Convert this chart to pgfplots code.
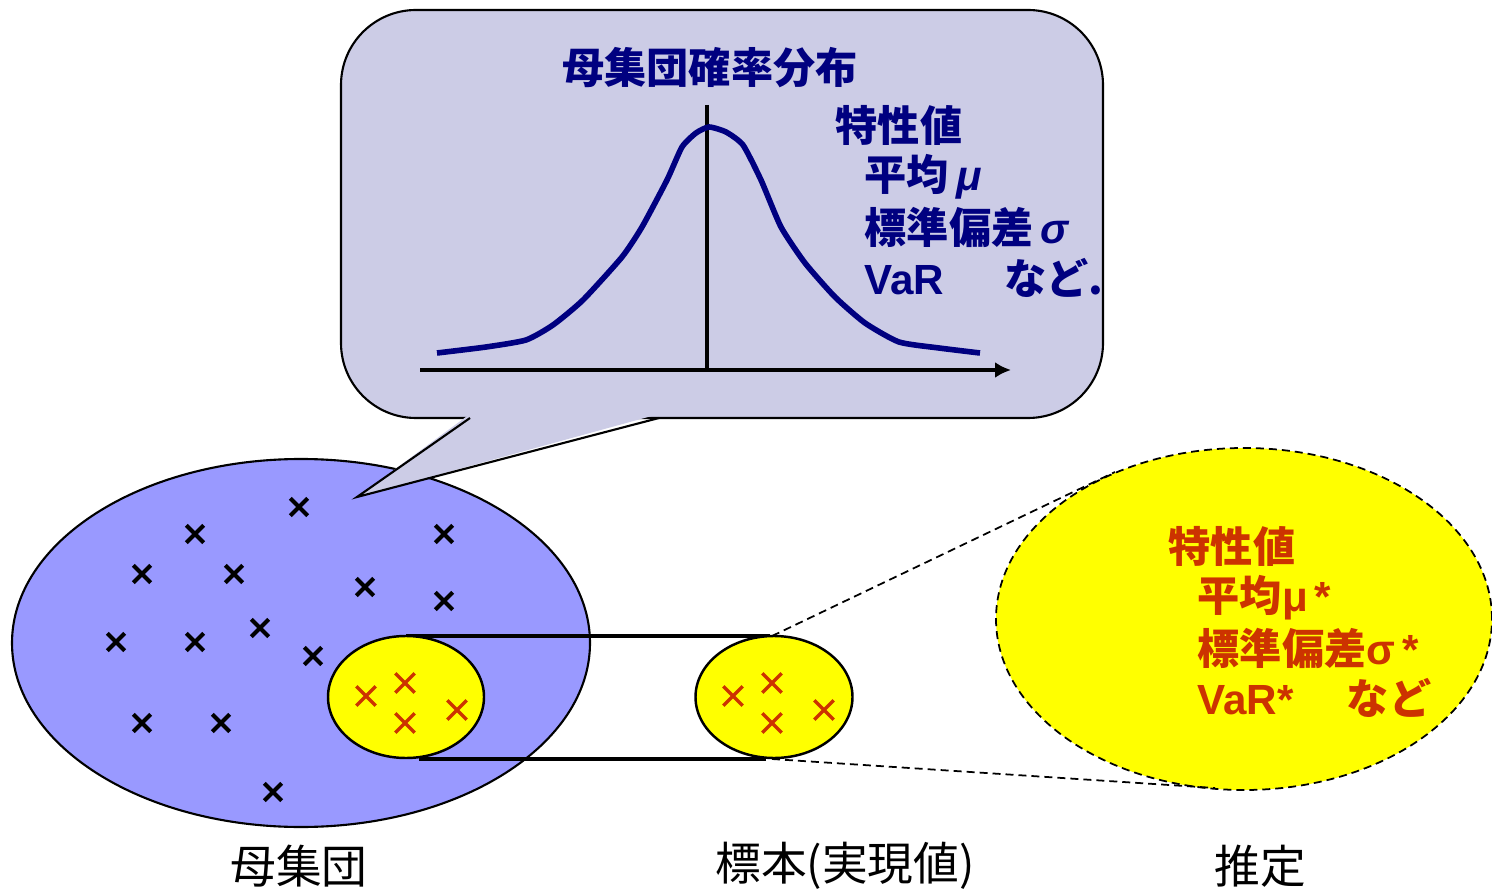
\documentclass[border=0pt]{standalone}
\usepackage{pgfplots}
\pgfplotsset{compat=1.18}
\usetikzlibrary{arrows.meta}
\usepackage{fontspec}
\newfontfamily\jp{Noto Sans CJK JP}
\newfontfamily\lat{Liberation Sans}
\definecolor{callfill}{RGB}{204,204,230}
\definecolor{popfill}{RGB}{153,153,255}
\definecolor{yel}{RGB}{255,255,0}
\definecolor{navy}{RGB}{0,0,128}
\definecolor{rd}{RGB}{204,51,0}
\begin{document}
\begin{tikzpicture}
\begin{axis}[name=a, width=149.2mm, height=88.9mm, scale only axis,
  xmin=0, xmax=1492, ymin=0, ymax=889, y dir=reverse, hide axis, clip=true]
% population ellipse
\draw[fill=popfill, line width=0.6pt] (axis cs:301,643) ellipse [x radius=28.9mm, y radius=18.4mm];
% callout box
\draw[fill=callfill, line width=0.6pt, rounded corners=7.5mm] (axis cs:341,10) rectangle (axis cs:1103,418);
\fill[callfill] (axis cs:470,414) -- (axis cs:357,497) -- (axis cs:659,414) -- cycle;
\draw[line width=0.6pt] (axis cs:470,418) -- (axis cs:357,497) -- (axis cs:659,418);
% distribution axes
\draw[line width=0.9pt] (axis cs:707,105) -- (axis cs:707,370);
\draw[line width=0.9pt, -{Latex[length=4.5pt,width=4.5pt]}] (axis cs:420,370) -- (axis cs:1011,370);
\addplot[navy, line width=1.6pt, mark=none, smooth, tension=0.35] coordinates {
(437,353) (486,347) (526,340) (553,325) (583,300) (622,257) (642,227) (667,180)
(682,147) (696,133) (709,127) (726,132) (743,145) (761,180) (781,227) (805,263)
(835,297) (865,323) (899,342) (939,348) (980,353)};
% sample lines
\draw[line width=1pt] (axis cs:406,636) -- (axis cs:770,636);
\draw[line width=1pt] (axis cs:419,759) -- (axis cs:766,759);
% estimate ellipse
\draw[fill=yel, line width=0.5pt, dash pattern=on 0.8mm off 0.5mm] (axis cs:1244,619) ellipse [x radius=24.8mm, y radius=17.1mm];
\draw[line width=0.5pt, dash pattern=on 0.8mm off 0.5mm] (axis cs:772,636) -- (axis cs:1115,472);
\draw[line width=0.5pt, dash pattern=on 0.8mm off 0.5mm] (axis cs:772,759) -- (axis cs:1215,788);
% yellow sample ellipses
\draw[fill=yel, line width=0.7pt] (axis cs:406,697) ellipse [x radius=7.8mm, y radius=6.1mm];
\draw[fill=yel, line width=0.7pt] (axis cs:774,697) ellipse [x radius=7.85mm, y radius=6.1mm];
% population points
\addplot[only marks, mark=x, mark size=3.5pt, mark options={line width=1.2pt, draw=black}] coordinates {
(299,507) (195,534) (444,534) (142,574) (234,574) (365,587) (444,601)
(116,642) (195,642) (260,628) (313,656) (142,723) (221,723) (273,792)};
% sample points
\addplot[only marks, mark=x, mark size=3.9pt, mark options={line width=0.95pt, draw=rd}] coordinates {
(366,696) (405,683) (405,723) (457,710)};
\addplot[only marks, mark=x, mark size=3.9pt, mark options={line width=0.95pt, draw=rd}] coordinates {
(733,696) (772,683) (772,723) (824,710)};
% callout text
\node[anchor=center, inner sep=0, text=navy, font=\jp\bfseries\fontsize{12pt}{14pt}\selectfont] at (axis cs:710,68) {母集団確率分布};
\node[anchor=west, inner sep=0, text=navy, font=\jp\bfseries\fontsize{12pt}{14pt}\selectfont] at (axis cs:835,125) {特性値};
\node[anchor=west, inner sep=0, text=navy, font=\jp\bfseries\fontsize{12pt}{14pt}\selectfont] at (axis cs:864,177) {平均\,{\lat\itshape μ}};
\node[anchor=west, inner sep=0, text=navy, font=\jp\bfseries\fontsize{12pt}{14pt}\selectfont] at (axis cs:864,227) {標準偏差\,{\lat\itshape σ}};
\node[anchor=west, inner sep=0, text=navy, font=\jp\bfseries\fontsize{12pt}{14pt}\selectfont] at (axis cs:864,278) {{\lat VaR}\hspace{6mm}など.};
% estimate text
\node[anchor=west, inner sep=0, text=rd, font=\jp\bfseries\fontsize{12pt}{14pt}\selectfont] at (axis cs:1168,546) {特性値};
\node[anchor=west, inner sep=0, text=rd, font=\jp\bfseries\fontsize{12pt}{14pt}\selectfont] at (axis cs:1197,598) {平均{\lat\bfseries μ\,*}};
\node[anchor=west, inner sep=0, text=rd, font=\jp\bfseries\fontsize{12pt}{14pt}\selectfont] at (axis cs:1197,648) {標準偏差{\lat\bfseries σ\,*}};
\node[anchor=west, inner sep=0, text=rd, font=\jp\bfseries\fontsize{12pt}{14pt}\selectfont] at (axis cs:1197,698) {{\lat\bfseries VaR*}\hspace{5.3mm}など};
% bottom labels
\node[anchor=center, inner sep=0, font=\jp\fontsize{13pt}{15pt}\selectfont] at (axis cs:299,866) {母集団};
\node[anchor=center, inner sep=0, font=\jp\fontsize{13pt}{15pt}\selectfont] at (axis cs:845,866) {標本(実現値)};
\node[anchor=center, inner sep=0, font=\jp\fontsize{13pt}{15pt}\selectfont] at (axis cs:1260,866) {推定};
\end{axis}
\pgfresetboundingbox
\path[use as bounding box] (a.south west) rectangle (a.north east);
\end{tikzpicture}
\end{document}
